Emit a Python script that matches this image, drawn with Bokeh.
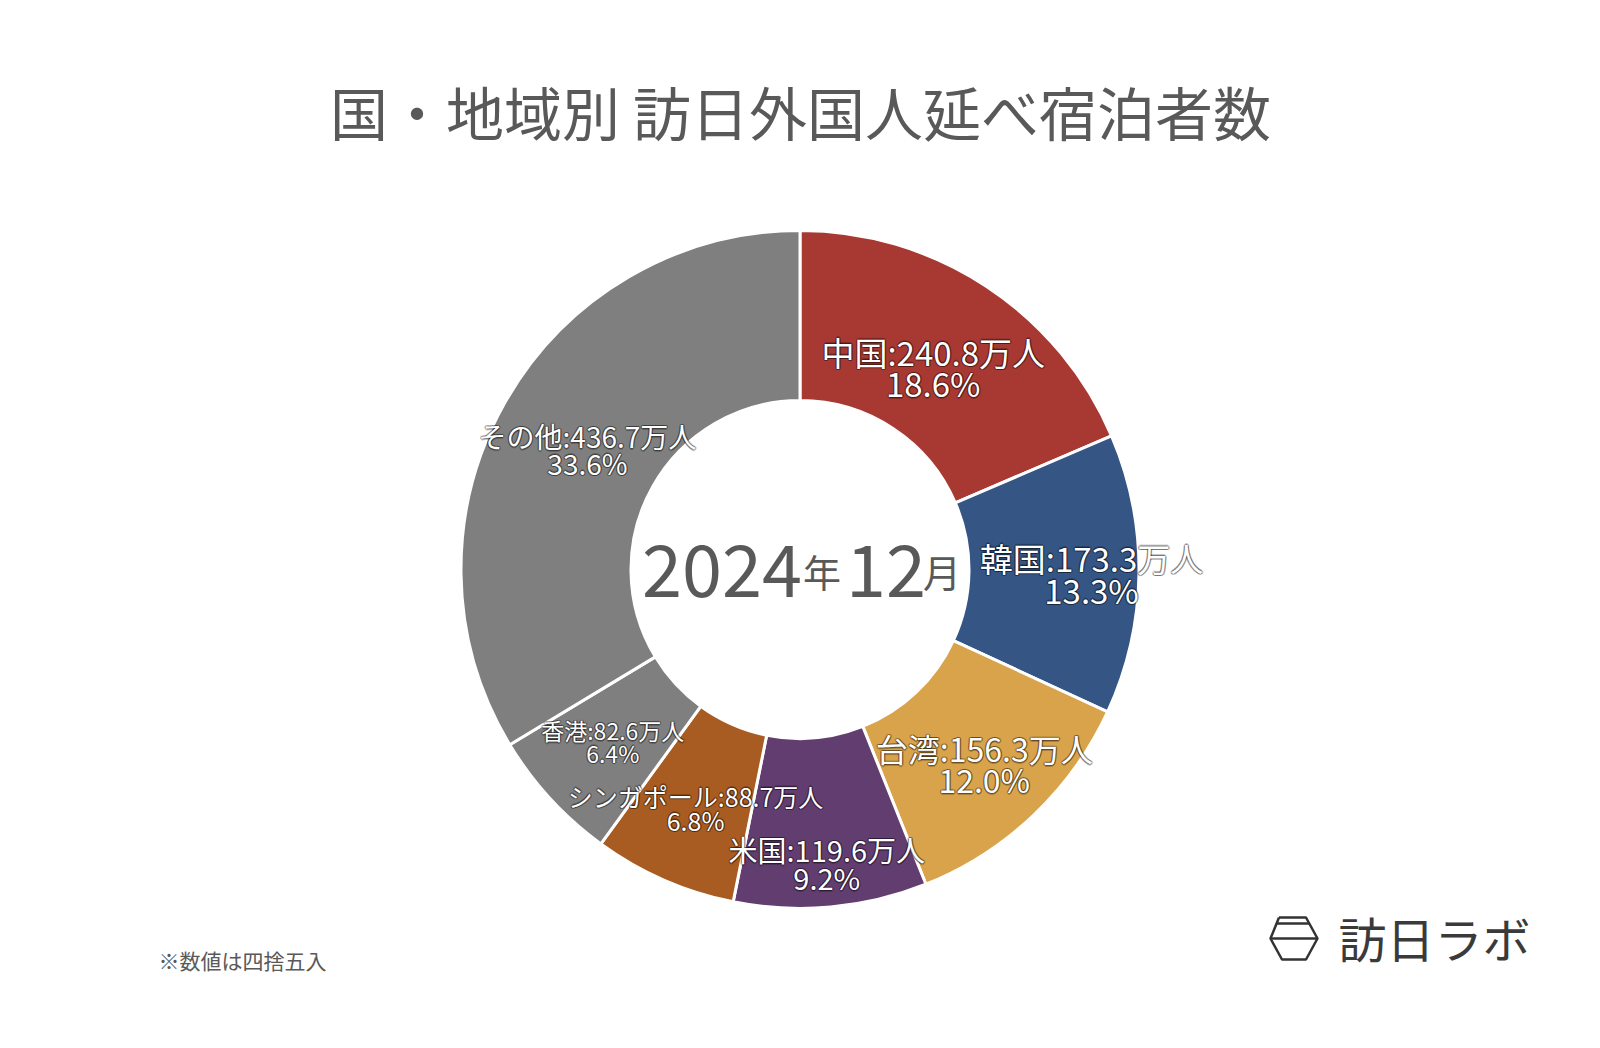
import numpy as np
from bokeh.plotting import figure
from bokeh.models import Range1d, ColumnDataSource
from bokeh.core.properties import value
from bokeh.embed import file_html
from bokeh.resources import INLINE

# ---- data ----
names = ["中国", "韓国", "台湾", "米国", "シンガポール", "香港", "その他"]
values = [240.8, 173.3, 156.3, 119.6, 88.7, 82.6, 436.7]
shares = [18.6, 13.3, 12.0, 9.2, 6.8, 6.4, 33.6]
colors = ["#A83832", "#355585", "#D9A34B", "#623D70", "#A85C21", "#7F7F7F", "#7F7F7F"]
title_text = "国・地域別 訪日外国人延べ宿泊者数"
period_year = "2024"
period_month = "12"
note_text = "※数値は四捨五入"
brand_text = "訪日ラボ"

# ---- layout (styles) ----
W, H = 1600, 1048
CX, CY = 799.5, H - 569
R_OUT, R_IN = 339, 169
label_r = [0.714, 0.86, 0.79, 0.87, 0.767, 0.75, 0.72]
label_fs = [33, 33, 32, 29, 25, 23, 28]
FONT = "Noto Sans CJK JP"
GRAY = "#595959"

vals = np.array(values)
frac = vals / vals.sum()
cum = np.cumsum(frac)
start = np.pi / 2 - 2 * np.pi * (cum - frac)
end = np.pi / 2 - 2 * np.pi * cum
mid = (start + end) / 2

p = figure(width=W, height=H, x_range=Range1d(0, W), y_range=Range1d(0, H),
           x_axis_type=None, y_axis_type=None, toolbar_location=None,
           output_backend="svg", min_border=0)
p.grid.visible = False
p.outline_line_color = None
p.background_fill_color = "white"
p.border_fill_color = "white"

src = ColumnDataSource(dict(start=start, end=end, color=colors))
p.annular_wedge(x=CX, y=CY, inner_radius=R_IN, outer_radius=R_OUT,
                start_angle="start", end_angle="end", direction="clock",
                fill_color="color", line_color="white", line_width=3, source=src)

# labels
lx = CX + np.array(label_r) * R_OUT * np.cos(mid)
ly = CY + np.array(label_r) * R_OUT * np.sin(mid)
line1 = [f"{n}:{v:.1f}万人" for n, v in zip(names, values)]
line2 = [f"{s:.1f}%" for s in shares]
fs = np.array(label_fs, dtype=float)
lsrc = ColumnDataSource(dict(
    x=lx, y1=ly + fs * 0.48, y2=ly - fs * 0.48, t1=line1, t2=line2,
    fs=[f"{int(f)}px" for f in fs]))

offsets = [(-1.5, 0), (1.5, 0), (0, -1.5), (0, 1.5), (-1, -1), (1, 1), (-1, 1), (1, -1)]
for yk, tk in (("y1", "t1"), ("y2", "t2")):
    for ox, oy in offsets:
        p.text(x="x", y=yk, text=tk, source=lsrc, text_font=value(FONT),
               text_font_size="fs", text_color="black", text_alpha=0.22,
               text_align="center", text_baseline="middle",
               x_offset=ox, y_offset=oy)
    p.text(x="x", y=yk, text=tk, source=lsrc, text_font=value(FONT),
           text_font_size="fs", text_color="white",
           text_align="center", text_baseline="middle")

# title
p.text(x=[W / 2], y=[H - 110], text=[title_text], text_font=value(FONT),
       text_font_size="58px", text_color=GRAY, text_align="center",
       text_baseline="middle")

# centre period text
base_y = H - 570
p.text(x=[CX - 158], y=[base_y], text=[period_year], text_font=value(FONT),
       text_font_size="72px", text_color=GRAY, text_align="left",
       text_baseline="alphabetic")
p.text(x=[CX + 3], y=[base_y], text=["年"], text_font=value(FONT),
       text_font_size="38px", text_color=GRAY, text_align="left",
       text_baseline="alphabetic")
p.text(x=[CX + 46], y=[base_y], text=[period_month], text_font=value(FONT),
       text_font_size="72px", text_color=GRAY, text_align="left",
       text_baseline="alphabetic")
p.text(x=[CX + 123], y=[base_y], text=["月"], text_font=value(FONT),
       text_font_size="38px", text_color=GRAY, text_align="left",
       text_baseline="alphabetic")

# footnote
p.text(x=[158], y=[H - 959], text=[note_text], text_font=value(FONT),
       text_font_size="21px", text_color=GRAY, text_align="left",
       text_baseline="middle")

# brand logo
hx, hy, hw, hh = 1293.5, H - 938, 23.5, 21
hex_x = [hx - 15, hx + 12, hx + hw, hx + 12, hx - 12, hx - hw, hx - 15]
hex_y = [hy + hh, hy + hh, hy, hy - hh, hy - hh, hy, hy + hh]
p.line(hex_x, hex_y, line_color="#333333", line_width=2.5)
p.line([hx - hw, hx + hw], [hy, hy], line_color="#333333", line_width=2.5)
p.line([hx - 18, hx + 15], [hy + hh - 6, hy + hh - 6], line_color="#333333", line_width=2.5)
p.text(x=[1338], y=[H - 936], text=[brand_text], text_font=value(FONT),
       text_font_size="48px", text_color="#3a3a3a", text_align="left",
       text_baseline="middle")

open("out.html", "w").write(file_html(p, INLINE))
